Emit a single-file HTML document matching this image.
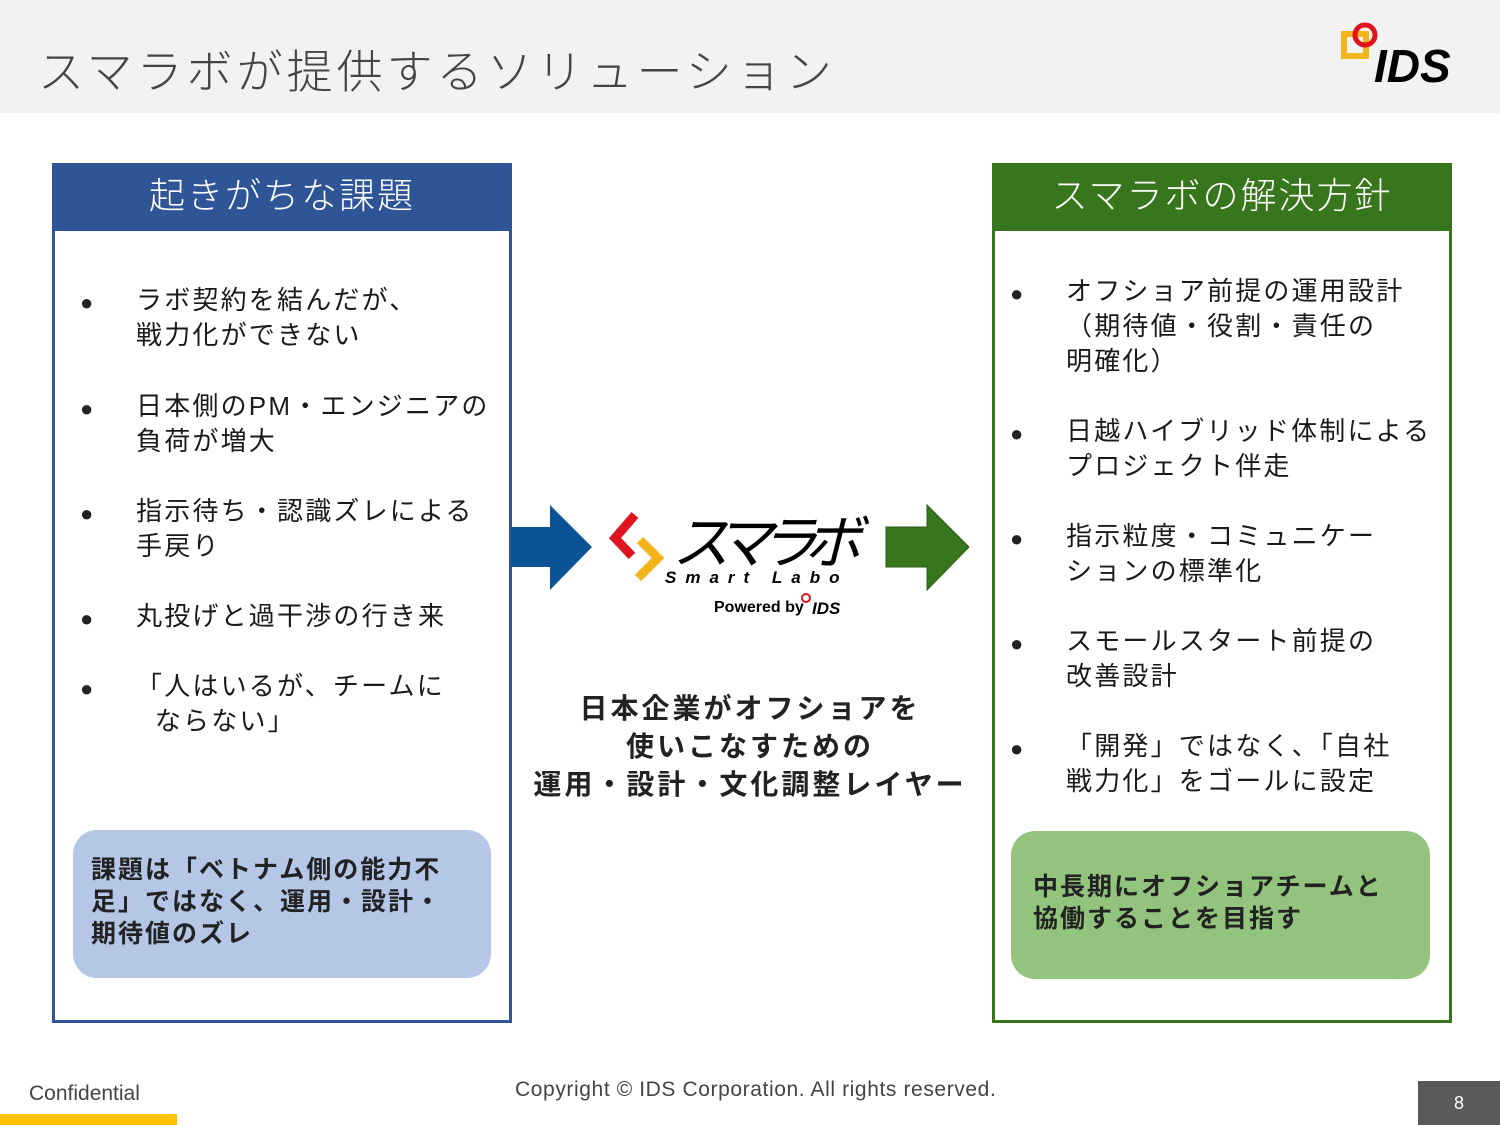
<!DOCTYPE html>
<html><head><meta charset="utf-8"><style>
*{margin:0;padding:0;box-sizing:border-box}
body{width:1500px;height:1125px;background:#fff;position:relative;overflow:hidden;font-family:"Liberation Sans","Noto Sans CJK JP",sans-serif;color:#222}
.a{position:absolute}
.hdr{left:0;top:0;width:1500px;height:113px;background:#f2f2f2}
.title{left:38px;top:36px;font-size:46px;color:#444;font-weight:300;letter-spacing:4px;white-space:nowrap}
.box{border:3px solid}
.bh{color:#fff;font-size:36px;text-align:center;line-height:66px;letter-spacing:2px;font-weight:300}
.li{font-size:26px;line-height:35px;white-space:nowrap;letter-spacing:2.2px;color:#1a1a1a}
.dot{font-size:22px}
.call{border-radius:24px;font-size:25px;font-weight:700;line-height:32px;letter-spacing:2px}
</style></head><body>
<div class="a hdr"></div>
<div class="a title">スマラボが提供するソリューション</div>
<svg class="a" style="left:1340px;top:20px" width="120" height="66">
<rect x="4" y="14" width="22" height="22" fill="none" stroke="#f2b51c" stroke-width="6"/>
<circle cx="25" cy="15" r="10" fill="none" stroke="#e0141e" stroke-width="5"/>
<text x="34" y="62" font-family="Liberation Sans" font-weight="700" font-style="italic" font-size="46" fill="#000">IDS</text>
</svg>

<div class="a box" style="left:52px;top:163px;width:460px;height:860px;border-color:#2F5597"></div>
<div class="a bh" style="left:52px;top:163px;width:460px;height:68px;background:#2F5597">起きがちな課題</div>
<div class="a box" style="left:992px;top:163px;width:460px;height:860px;border-color:#38761D"></div>
<div class="a bh" style="left:992px;top:163px;width:460px;height:68px;background:#38761D">スマラボの解決方針</div>

<div class="a dot" style="left:80px;top:290px">●</div><div class="a li" style="left:136px;top:283px">ラボ契約を結んだが、<br>戦力化ができない</div>
<div class="a dot" style="left:80px;top:396px">●</div><div class="a li" style="left:136px;top:389px">日本側のPM・エンジニアの<br>負荷が増大</div>
<div class="a dot" style="left:80px;top:501px">●</div><div class="a li" style="left:136px;top:494px">指示待ち・認識ズレによる<br>手戻り</div>
<div class="a dot" style="left:80px;top:606px">●</div><div class="a li" style="left:136px;top:599px">丸投げと過干渉の行き来</div>
<div class="a dot" style="left:80px;top:676px">●</div><div class="a li" style="left:136px;top:669px">「人はいるが、チームに<br>&nbsp;&nbsp;ならない」</div>

<div class="a dot" style="left:1010px;top:281px">●</div><div class="a li" style="left:1066px;top:274px">オフショア前提の運用設計<br>（期待値・役割・責任の<br>明確化）</div>
<div class="a dot" style="left:1010px;top:421px">●</div><div class="a li" style="left:1066px;top:414px">日越ハイブリッド体制による<br>プロジェクト伴走</div>
<div class="a dot" style="left:1010px;top:526px">●</div><div class="a li" style="left:1066px;top:519px">指示粒度・コミュニケー<br>ションの標準化</div>
<div class="a dot" style="left:1010px;top:631px">●</div><div class="a li" style="left:1066px;top:624px">スモールスタート前提の<br>改善設計</div>
<div class="a dot" style="left:1010px;top:736px">●</div><div class="a li" style="left:1066px;top:729px">「開発」ではなく、「自社<br>戦力化」をゴールに設定</div>

<div class="a call" style="left:73px;top:830px;width:418px;height:148px;background:#B4C7E7;padding:24px 18px">課題は「ベトナム側の能力不<br>足」ではなく、運用・設計・<br>期待値のズレ</div>
<div class="a call" style="left:1011px;top:831px;width:419px;height:148px;background:#93C47D;padding:40px 22px">中長期にオフショアチームと<br>協働することを目指す</div>

<svg class="a" style="left:0;top:0" width="1500" height="1125">
<polygon points="511,527 550,527 550,505 592,547 550,590 550,567 511,567" fill="#0B5394"/>
<polygon points="886,527 927,527 927,505 969,547 927,590 927,567 886,567" fill="#38761D" stroke="#2a5a15"/>
<polyline points="635,515 615,538 632,556" fill="none" stroke="#e0141e" stroke-width="9"/>
<polyline points="640,540 658,558 638,578" fill="none" stroke="#f2b51c" stroke-width="9"/>
<text x="672" y="563" font-size="58" font-style="italic" font-family="Noto Sans CJK JP" fill="#000" textLength="190">スマラボ</text>
<text x="665" y="583" font-size="17" font-weight="700" font-style="italic" font-family="Liberation Sans" fill="#000" letter-spacing="9">Smart Labo</text>
<text x="714" y="612" font-size="16" font-weight="700" font-family="Liberation Sans" fill="#000">Powered by</text>
<text x="812" y="614" font-size="17" font-weight="700" font-style="italic" font-family="Liberation Sans" fill="#000">IDS</text>
<circle cx="806" cy="598" r="4" fill="none" stroke="#e0141e" stroke-width="2"/>
</svg>

<div class="a" style="left:500px;top:690px;width:500px;text-align:center;font-size:28px;font-weight:700;line-height:38px;letter-spacing:3px">日本企業がオフショアを<br>使いこなすための<br>運用・設計・文化調整レイヤー</div>

<div class="a" style="left:29px;top:1082px;font-size:21px;color:#444;font-weight:300">Confidential</div>
<div class="a" style="left:0;top:1114px;width:177px;height:11px;background:#FFC000"></div>
<div class="a" style="left:515px;top:1078px;font-size:21px;color:#444;letter-spacing:0.6px">Copyright © IDS Corporation. All rights reserved.</div>
<div class="a" style="left:1418px;top:1081px;width:82px;height:44px;background:#595959;color:#fff;font-size:18px;text-align:center;line-height:44px">8</div>
</body></html>
